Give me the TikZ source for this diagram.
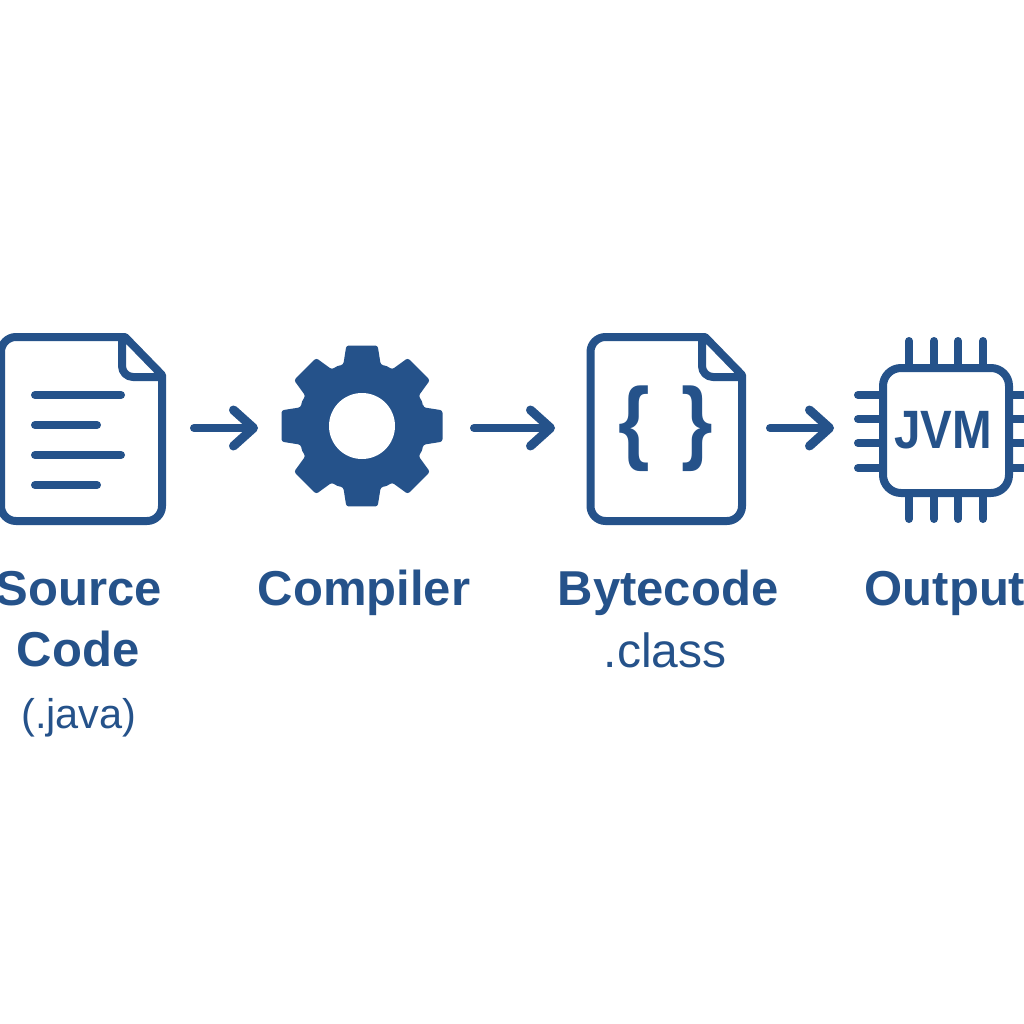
\documentclass[tikz,border=0pt]{standalone}
\usepackage{fontspec}
\setmainfont{Liberation Sans}
\usetikzlibrary{arrows.meta}
\definecolor{iconblue}{HTML}{25528A}
\begin{document}
\begin{tikzpicture}[line join=round, line cap=round, x=1pt, y=-1pt,
    icon/.style={draw=iconblue, line width=8pt},
    flow/.style={draw=iconblue, line width=8pt, -{Straight Barb[round,length=20pt,width=36pt,line width=9pt]}},
    title/.style={anchor=base, text=iconblue, font=\fontsize{49}{49}\selectfont\bfseries, inner sep=0pt},
    note/.style={anchor=base, text=iconblue, inner sep=0pt}]
    \useasboundingbox (0,0) rectangle (1024,1024);
    \fill[white] (0,0) rectangle (1024,1024);

    \draw[icon]
    [rounded corners=15pt] (125,337) -- (1,337) -- (1,521) -- (162,521) -- (162,420) [sharp corners] -- (162,375) -- cycle
    [rounded corners=11pt] (122,337) -- (122,377) -- (162,377);
    \draw[icon] (35,395) -- (121,395) (35,425) -- (97,425) (35,455) -- (121,455) (35,485) -- (97,485);

    \begin{scope}[shift={(362,426)}]
        \fill[iconblue, rounded corners=2.5pt] (-17:64)
        \foreach \a in {0,45,...,315}{
            -- (\a-17:64) -- (\a-11:82) -- (\a+11:82) -- (\a+17:64) -- (\a+22.5:65)
        } -- cycle;
        \fill[white] (0,0) circle (33);
    \end{scope}

    \draw[icon]
    [rounded corners=15pt] (705,337) -- (590.5,337) -- (590.5,521) -- (742,521) -- (742,420) [sharp corners] -- (742,375) -- cycle
    [rounded corners=11pt] (702,337) -- (702,377) -- (742,377);
    \node[note, font=\fontsize{92}{92}\selectfont\bfseries, xscale=.88] (braces) at (666,452) {\{\hspace{36pt}\}};

    \draw[icon, rounded corners=18pt] (883,368) rectangle (1009,493);
    \foreach \px in {909,934,958,983}{
        \draw[icon] (\px,341) -- (\px,364);
        \draw[icon] (\px,497) -- (\px,519);
    }
    \foreach \py in {395,419,443,468}{
        \draw[icon] (858,\py) -- (879,\py);
        \draw[icon] (1013,\py) -- (1032,\py);
    }
    \node[note, font=\fontsize{54}{54}\selectfont\bfseries, xscale=.88] (jvm) at (943,448) {JVM};

    \coordinate (sourceout) at (194,428);
    \coordinate (compilerin) at (258,428);
    \coordinate (compilerout) at (474,428);
    \coordinate (bytecodein) at (555,428);
    \coordinate (bytecodeout) at (770,428);
    \coordinate (jvmin) at (834,428);
    \draw[flow] (sourceout) -- (compilerin);
    \draw[flow] (compilerout) -- (bytecodein);
    \draw[flow] (bytecodeout) -- (jvmin);

    \node[title] (source) at (79,605) {Source};
    \node[title] (code) at (78,666) {Code};
    \node[note, font=\fontsize{41.5}{41.5}\selectfont] (java) at (79,728) {(.java)};
    \node[title] (compiler) at (364,605) {Compiler};
    \node[title] (bytecode) at (668,605) {Bytecode};
    \node[note, font=\fontsize{48}{48}\selectfont] (class) at (665,667) {.class};
    \node[title] (output) at (945,605) {Output};
\end{tikzpicture}
\end{document}
